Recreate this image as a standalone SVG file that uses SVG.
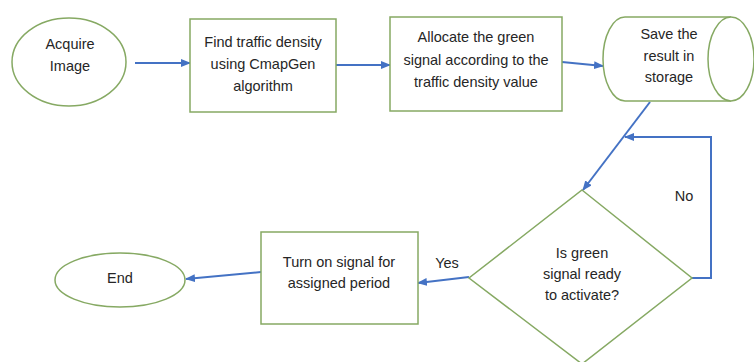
<svg xmlns="http://www.w3.org/2000/svg" width="754" height="362" viewBox="0 0 754 362">
  <style>
    .shape { fill: #ffffff; stroke: #86a963; stroke-width: 1.5; }
    .link { fill: none; stroke: #4472c4; stroke-width: 2; }
    .label { font-family: "Liberation Sans", Arial, sans-serif; font-size: 14.5px; fill: #262626; text-anchor: middle; }
  </style>
  <defs>
    <marker id="arrow" markerUnits="userSpaceOnUse" markerWidth="10" markerHeight="8" refX="9" refY="4" orient="auto">
      <path d="M0,0 L10,4 L0,8 z" fill="#4472c4"/>
    </marker>
  </defs>

  <rect width="754" height="362" fill="#ffffff"/>

  <!-- connectors -->
  <g id="connectors">
    <line class="link" x1="135" y1="63" x2="190" y2="63" marker-end="url(#arrow)"/>
    <line class="link" x1="336" y1="65" x2="390" y2="65" marker-end="url(#arrow)"/>
    <line class="link" x1="562" y1="62" x2="603" y2="66" marker-end="url(#arrow)"/>
    <line class="link" x1="650" y1="102" x2="583" y2="190" marker-end="url(#arrow)"/>
    <polyline class="link" points="692,278 711,278 711,137 625,137" marker-end="url(#arrow)"/>
    <line class="link" x1="469" y1="277" x2="418" y2="283" marker-end="url(#arrow)"/>
    <line class="link" x1="261" y1="272" x2="186" y2="279" marker-end="url(#arrow)"/>
    <text class="label" x="684" y="201">No</text>
    <text class="label" x="447" y="268">Yes</text>
  </g>

  <!-- start -->
  <g id="acquire-image">
    <ellipse class="shape" cx="69" cy="62" rx="57" ry="44"/>
    <text class="label" x="70" y="49">Acquire</text>
    <text class="label" x="70" y="71">Image</text>
  </g>

  <g id="find-density">
    <rect class="shape" x="190" y="19" width="146" height="93"/>
    <text class="label" x="263" y="47">Find traffic density</text>
    <text class="label" x="263" y="69">using CmapGen</text>
    <text class="label" x="263" y="91">algorithm</text>
  </g>

  <g id="allocate-signal">
    <rect class="shape" x="390" y="17" width="172" height="94"/>
    <text class="label" x="476" y="42">Allocate the green</text>
    <text class="label" x="476" y="65">signal according to the</text>
    <text class="label" x="476" y="87">traffic density value</text>
  </g>

  <!-- storage cylinder lying on its side -->
  <g id="storage">
    <path class="shape" d="M731,17 L625,17 A22,42 0 0 0 625,101 L731,101"/>
    <ellipse class="shape" cx="731" cy="59" rx="23" ry="42"/>
    <text class="label" x="669" y="39">Save the</text>
    <text class="label" x="669" y="61">result in</text>
    <text class="label" x="669" y="82">storage</text>
  </g>

  <g id="ready-decision">
    <polygon class="shape" points="582,190 692,278 582,364 469,278"/>
    <text class="label" x="582" y="258">Is green</text>
    <text class="label" x="582" y="279">signal ready</text>
    <text class="label" x="582" y="300">to activate?</text>
  </g>

  <g id="turn-on-signal">
    <rect class="shape" x="261" y="232" width="157" height="92"/>
    <text class="label" x="339" y="267">Turn on signal for</text>
    <text class="label" x="339" y="288">assigned period</text>
  </g>

  <g id="end">
    <ellipse class="shape" cx="120" cy="280" rx="65" ry="27"/>
    <text class="label" x="120" y="283">End</text>
  </g>
</svg>
